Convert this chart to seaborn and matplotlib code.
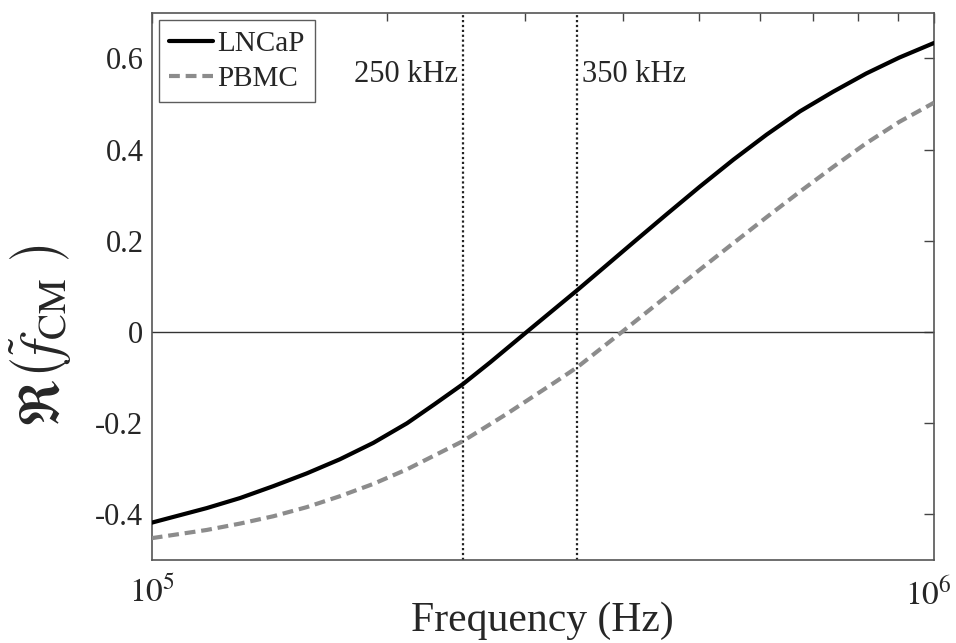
import matplotlib
matplotlib.use('agg')
import numpy as np
import pandas as pd
import seaborn as sns
import matplotlib.pyplot as plt
import matplotlib.transforms as mtransforms
from matplotlib.ticker import FixedLocator, FixedFormatter, FormatStrFormatter, LogLocator, NullFormatter

# values
freq_lncap = [1.0e5, 1.176e5, 1.297e5, 1.43e5, 1.578e5, 1.74e5, 1.92e5, 2.12e5, 2.3e5,
              2.5e5, 2.71e5, 2.99e5, 3.5e5, 3.74e5, 4.13e5, 4.55e5, 5.02e5, 5.54e5,
              6.11e5, 6.74e5, 7.43e5, 8.19e5, 9.03e5, 1.0e6]
re_lncap = [-0.418, -0.386, -0.364, -0.338, -0.310, -0.279, -0.243, -0.200, -0.158,
            -0.114, -0.066, -0.005, 0.092, 0.134, 0.197, 0.258, 0.319, 0.378,
            0.433, 0.484, 0.527, 0.567, 0.602, 0.634]

freq_pbmc = [1.0e5, 1.176e5, 1.297e5, 1.43e5, 1.578e5, 1.74e5, 1.92e5, 2.12e5, 2.5e5,
             2.84e5, 3.29e5, 3.5e5, 3.99e5, 4.48e5, 5.02e5, 5.54e5, 6.11e5, 6.74e5,
             7.43e5, 8.19e5, 9.03e5, 1.0e6]
re_pbmc = [-0.452, -0.434, -0.420, -0.404, -0.384, -0.360, -0.333, -0.301, -0.239,
           -0.180, -0.108, -0.077, 0.0, 0.069, 0.137, 0.195, 0.252, 0.308,
           0.362, 0.414, 0.461, 0.503]

marker_freqs = [2.5e5, 3.5e5]
marker_labels = ['250 kHz', '350 kHz']
y_ticks = [-0.4, -0.2, 0, 0.2, 0.4, 0.6]

df = pd.concat([
    pd.DataFrame({'freq': freq_lncap, 're': re_lncap, 'cell': 'LNCaP'}),
    pd.DataFrame({'freq': freq_pbmc, 're': re_pbmc, 'cell': 'PBMC'}),
])

sns.set_style('white')
plt.rcParams['font.family'] = ['Liberation Serif', 'DejaVu Serif']
plt.rcParams['mathtext.fontset'] = 'stix'
plt.rcParams['axes.unicode_minus'] = False

fig = plt.figure(figsize=(9.56, 6.43), dpi=100)
ax = fig.add_axes([0.1587, 0.129, 0.8183, 0.851])

ax.axhline(0, color='#333333', lw=1.0, zorder=1)
for f in marker_freqs:
    ax.axvline(f, color='#222222', ls=(0, (1, 1.2)), lw=1.6, zorder=1)

sns.lineplot(data=df, x='freq', y='re', hue='cell', style='cell',
             palette={'LNCaP': 'black', 'PBMC': '#8c8c8c'},
             dashes={'LNCaP': '', 'PBMC': (2.6, 1.4)},
             estimator=None, sort=False, lw=3, ax=ax, zorder=3)

ax.set_xscale('log')
ax.set_xlim(1e5, 1e6)
ax.set_ylim(-0.5, 0.7)

ax.xaxis.set_major_locator(FixedLocator([1e5, 1e6]))
ax.xaxis.set_major_formatter(FixedFormatter([r'$10^{5}$', r'$10^{6}$']))
ax.xaxis.set_minor_locator(LogLocator(base=10, subs=np.arange(2, 10)))
ax.xaxis.set_minor_formatter(NullFormatter())
ax.yaxis.set_major_locator(FixedLocator(y_ticks))
ax.yaxis.set_major_formatter(FormatStrFormatter('%g'))

ax.tick_params(axis='both', which='both', direction='in', top=True, right=True,
               color='#444444', labelsize=22, width=1.0)
ax.tick_params(axis='both', which='major', length=7, pad=6)
ax.tick_params(axis='x', which='major', labelsize=24, pad=12)
ax.tick_params(axis='x', which='minor', length=6)
for s in ax.spines.values():
    s.set_color('#555555')
    s.set_linewidth(1.2)

# nudge the right-hand 10^6 label a little left so it stays inside the figure
offset = mtransforms.ScaledTranslation(-4 / 72, 0, fig.dpi_scale_trans)
ax.get_xticklabels()[-1].set_transform(ax.get_xticklabels()[-1].get_transform() + offset)

ax.set_xlabel('Frequency (Hz)', fontsize=30)
ax.xaxis.set_label_coords(0.5, -0.075)
ax.set_ylabel(r'$\Re\left(\widetilde{f}_{\mathrm{CM}}\ \right)$', fontsize=40)
ax.yaxis.set_label_coords(-0.1, 0.41)

ax.text(marker_freqs[0] * 0.985, 0.565, marker_labels[0], ha='right', va='center', fontsize=22)
ax.text(marker_freqs[1] * 1.015, 0.565, marker_labels[1], ha='left', va='center', fontsize=22)

leg = ax.legend(loc='upper left', fontsize=21, frameon=True, fancybox=False,
                handlelength=1.5, handletextpad=0.15, borderpad=0.35, labelspacing=0.3,
                borderaxespad=0.25)
leg.get_frame().set_edgecolor('#333333')
leg.get_frame().set_linewidth(1.0)
leg.set_title(None)

fig.savefig('out.png', dpi=100)
plt.close(fig)
